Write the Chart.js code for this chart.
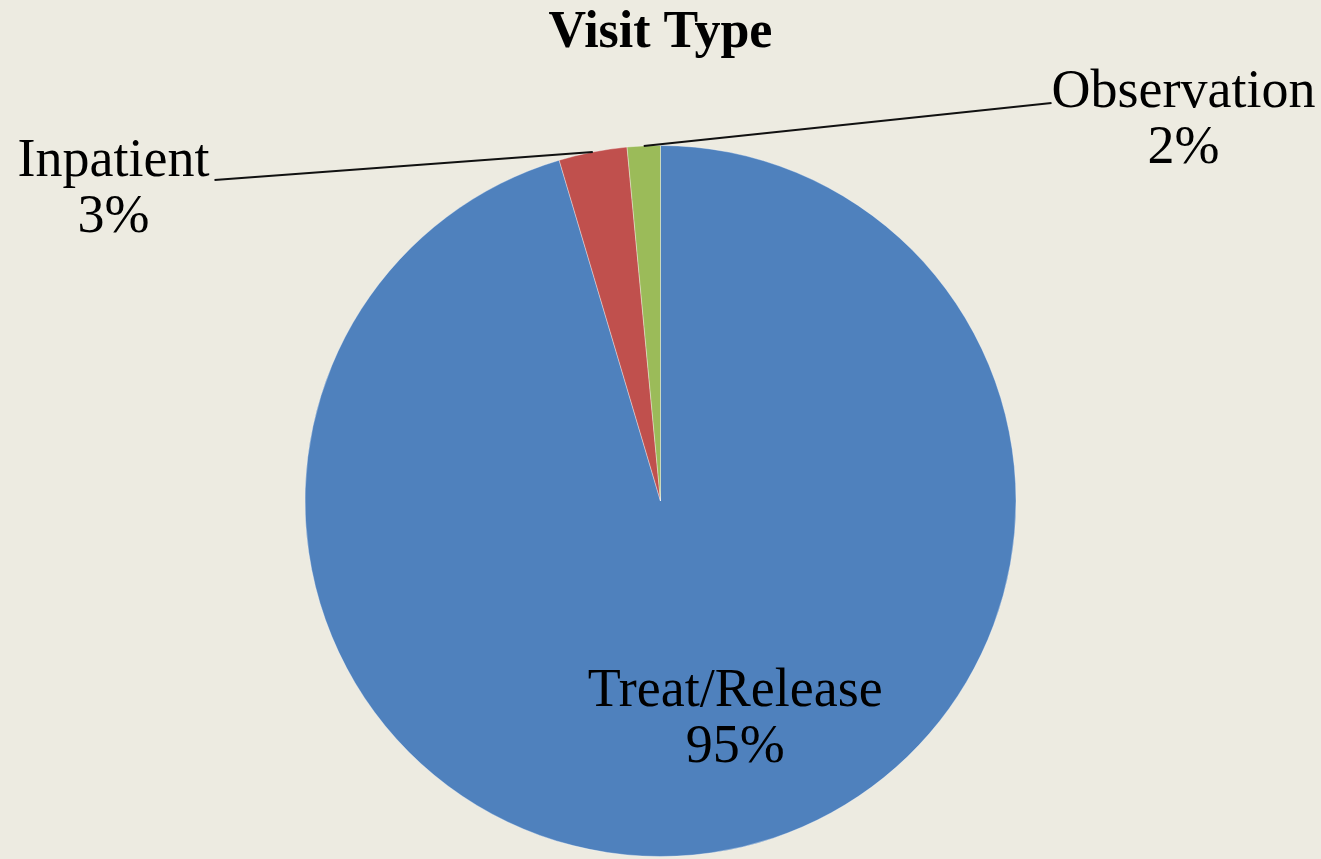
<!DOCTYPE html>
<html>
<head>
<meta charset="utf-8">
<title>Visit Type</title>
<script src="https://cdn.jsdelivr.net/npm/chart.js@4/dist/chart.umd.min.js"></script>
<style>
  html, body { margin: 0; padding: 0; background: #EDEBE1; }
  #wrap { width: 1321px; height: 859px; }
</style>
</head>
<body>
<div id="wrap"><canvas id="myChart"></canvas></div>
<script>
// данные диаграммы
var categories = ["Treat/Release", "Inpatient", "Observation"];
var shares = [95.4, 3.1, 1.5];
var sliceColors = ["#4F81BD", "#C0504D", "#9BBB59"];

var labelFont = "54px 'Liberation Serif', serif";

// подписи и выноски рисуем сами
var pieLabels = {
  id: "pieLabels",
  afterDatasetsDraw: function (chart) {
    var ctx = chart.ctx;
    var arcs = chart.getDatasetMeta(0).data;
    ctx.save();
    ctx.font = labelFont;
    ctx.fillStyle = "#000";
    ctx.textAlign = "center";
    ctx.textBaseline = "alphabetic";

    arcs.forEach(function (arc, i) {
      var text = categories[i];
      var pct = Math.round(shares[i]) + "%";
      var mid = (arc.startAngle + arc.endAngle) / 2;
      var r = arc.outerRadius;
      if (i === 0) {
        // внутри сектора
        var lx = arc.x + Math.cos(mid - 0.19) * r * 0.64;
        var ly = arc.y + Math.sin(mid - 0.19) * r * 0.64;
        ctx.fillText(text, lx, ly - 10);
        ctx.fillText(pct, lx, ly + 46);
        return;
      }
      // выноска от края сектора
      var ex = arc.x + Math.cos(mid) * r;
      var ey = arc.y + Math.sin(mid) * r;
      var end, tx, ty;
      if (i === 1) {
        end = { x: arc.x - 446, y: arc.y - 321 };
        tx = end.x - 101; ty = end.y - 4;
      } else {
        end = { x: arc.x + 391, y: arc.y - 398 };
        tx = end.x + 132; ty = end.y + 4;
      }
      ctx.beginPath();
      ctx.lineWidth = 2;
      ctx.strokeStyle = "#111";
      ctx.moveTo(ex, ey);
      ctx.lineTo(end.x, end.y);
      ctx.stroke();
      ctx.fillText(text, tx, ty);
      ctx.fillText(pct, tx, ty + 56);
    });
    ctx.restore();
  }
};

new Chart("myChart", {
  type: "pie",
  data: {
    labels: categories,
    datasets: [
      {
        data: shares,
        backgroundColor: sliceColors,
        borderColor: "rgba(255,255,255,0.35)",
        borderWidth: 1
      }
    ]
  },
  options: {
    responsive: true,
    maintainAspectRatio: false,
    animation: false,
    layout: { padding: { top: 0, bottom: 2, left: 0, right: 0 } },
    plugins: {
      legend: false,
      tooltip: { enabled: false },
      title: {
        display: true,
        text: "Visit Type",
        color: "#000",
        font: { family: "'Liberation Serif', serif", size: 52, weight: "bold", lineHeight: 1.2 },
        padding: { top: 2, bottom: 80.6 }
      }
    }
  },
  plugins: [pieLabels]
});
</script>
</body>
</html>
